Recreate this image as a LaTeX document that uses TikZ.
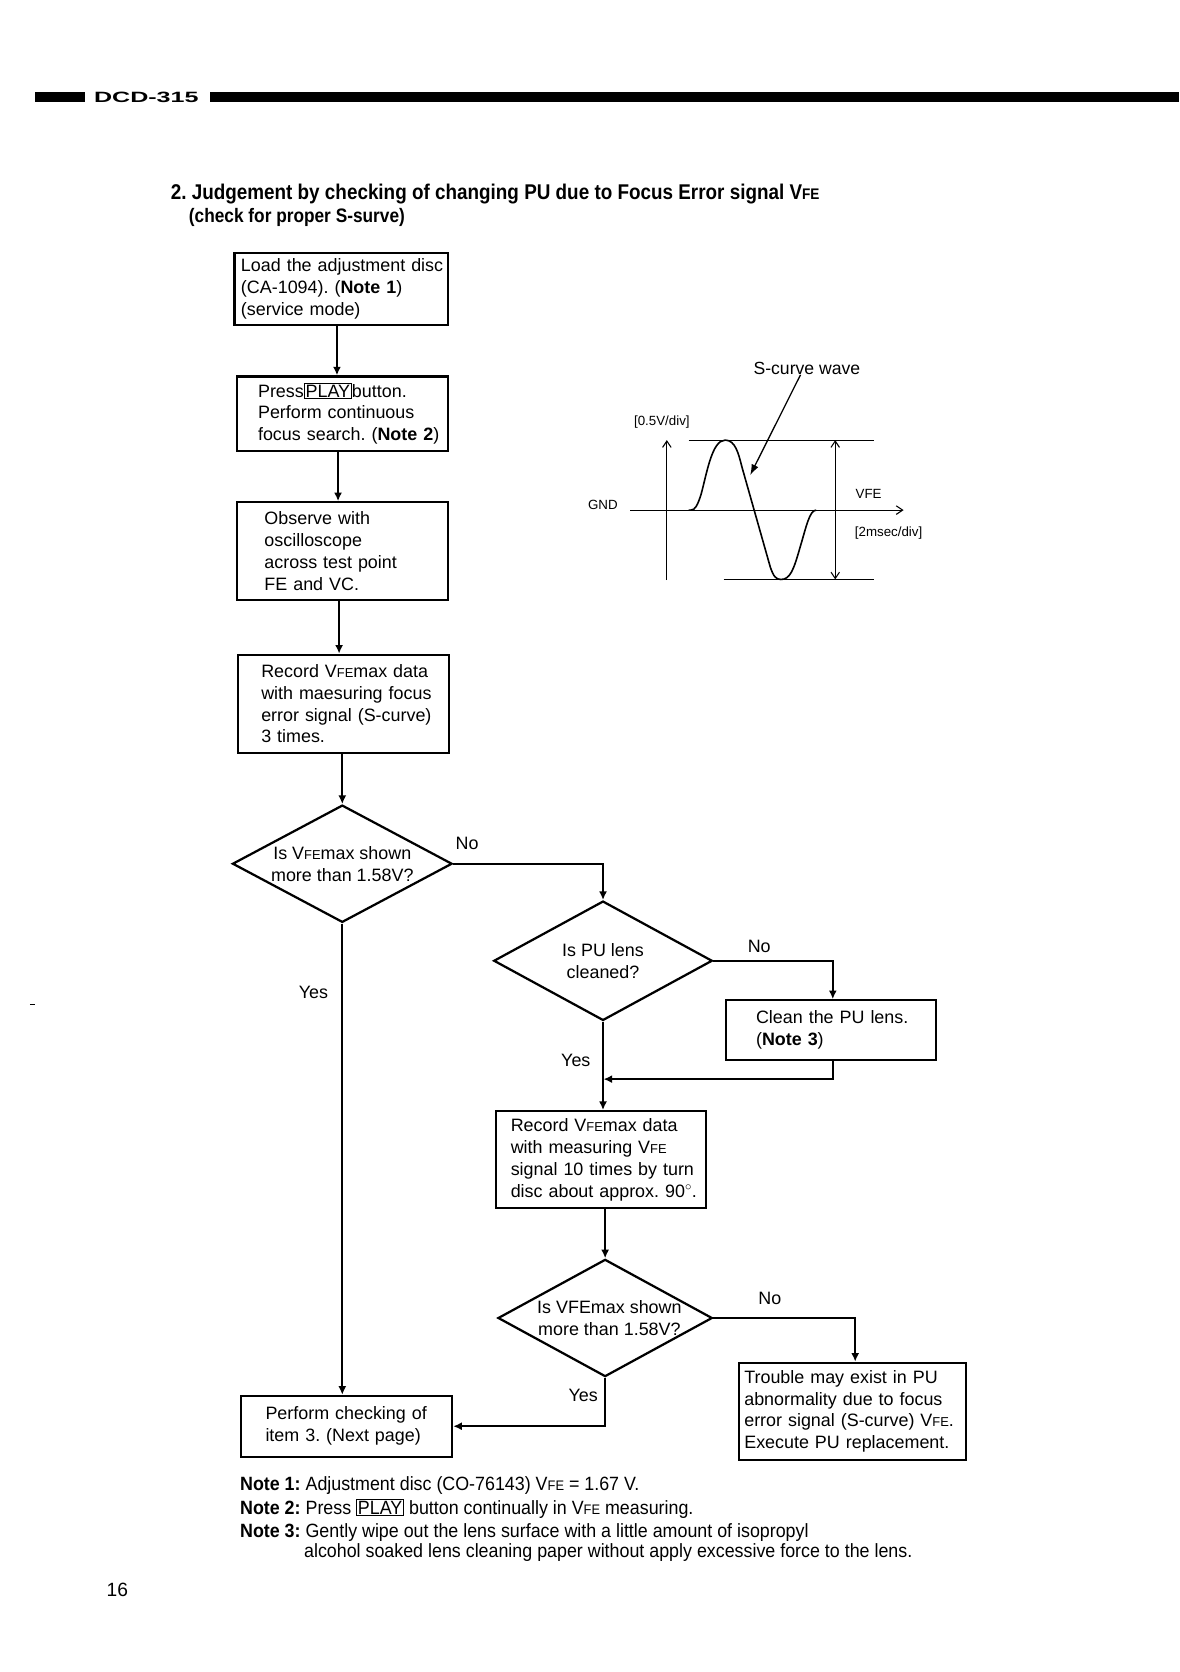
\documentclass[tikz,border=0pt]{standalone}
\usepackage{fontspec}
\setmainfont{Liberation Sans}
\newfontfamily\condfont[FakeStretch=0.885]{Liberation Sans}
\newfontfamily\notefont[FakeStretch=0.93]{Liberation Sans}
\usetikzlibrary{arrows.meta,shapes.geometric,calc}
\frenchspacing
\newcommand\FE{\scalebox{0.72}{FE}}
\newcommand\playkey{{\setlength{\fboxsep}{0.8pt}\setlength{\fboxrule}{0.9pt}\fbox{PLAY}}}
\newcommand\myline[1]{\mbox{#1}}
\tikzset{
  box/.style={draw, line width=2.1pt, inner ysep=0pt, align=left,
    font=\fontsize{16.8}{20.5}\selectfont},
  dia/.style={draw, diamond, line width=2.1pt, inner sep=0pt},
  dtxt/.style={inner sep=0pt, align=center, font=\fontsize{16.8}{20.5}\selectfont},
  lbl/.style={inner sep=0pt, font=\fontsize{16.8}{20}\selectfont},
  arr/.style={line width=2pt, -{Latex[length=8pt,width=7.5pt]}},
  gline/.style={line width=1pt},
  gtxt/.style={inner sep=0pt, font=\fontsize{12.5}{14}\selectfont},
  note/.style={inner sep=0pt, font=\notefont\fontsize{18}{22}\selectfont},
  barb/.style={-{Straight Barb[length=6pt,width=8pt]}}
}
\begin{document}
\begin{tikzpicture}[x=1pt,y=-1pt]
\useasboundingbox (0,0) rectangle (1106,1568);
\fill[white] (0,0) rectangle (1106,1568);

% header
\fill (33,86) rectangle (80,96);
\fill (197,86) rectangle (1106,96);
\node[anchor=west, inner sep=0pt, font=\bfseries\fontsize{14}{14}\selectfont] (hdr) at (88,91.5) {\scalebox{1.68}[1]{DCD-315}};

% title
\node[anchor=base west, inner sep=0pt, font=\condfont\bfseries\fontsize{20}{24}\selectfont] (title) at (160,187)
  {2. Judgement by checking of changing PU due to Focus Error signal V\FE};
\node[anchor=base west, inner sep=0pt, font=\condfont\bfseries\fontsize{18.3}{22}\selectfont] (sub) at (177,209)
  {(check for proper S-surve)};

% boxes
\node[box, minimum width=200pt, minimum height=68pt, text width=188pt, inner xsep=6pt] (b1) at (320,271)
  {\myline{Load the adjustment disc}\\\myline{(CA-1094). (\textbf{Note 1})}\\\myline{(service mode)}};
\node[box, minimum width=198pt, minimum height=70pt, text width=158pt, inner xsep=20pt] (b2) at (321,388)
  {\myline{Press\playkey button.}\\\myline{Perform continuous}\\\myline{focus search. (\textbf{Note 2})}};
\node[box, minimum width=198pt, minimum height=92pt, text width=146pt, inner xsep=26pt] (b3) at (321,517)
  {\myline{Observe with}\\\myline{oscilloscope}\\\myline{across test point}\\\myline{FE and VC.}};
\node[box, minimum width=198pt, minimum height=92pt, text width=154pt, inner xsep=22pt] (b4) at (322,660)
  {\myline{Record V\FE max data}\\\myline{with maesuring focus}\\\myline{error signal (S-curve)}\\\myline{3 times.}};
\node[box, minimum width=197pt, minimum height=56pt, text width=141pt, inner xsep=28pt] (b5) at (779.5,966)
  {\myline{Clean the PU lens.}\\\myline{(\textbf{Note 3})}};
\node[box, minimum width=197pt, minimum height=91pt, text width=169pt, inner xsep=14pt] (b6) at (563.5,1087.5)
  {\myline{Record V\FE max data}\\\myline{with measuring V\FE}\\\myline{signal 10 times by turn}\\\myline{disc about approx. 90$^\circ$.}};
\node[box, minimum width=213pt, minimum height=91pt, text width=203pt, inner xsep=5pt] (b7) at (799.5,1323.5)
  {\myline{Trouble may exist in PU}\\\myline{abnormality due to focus}\\\myline{error signal (S-curve) V\FE.}\\\myline{Execute PU replacement.}};
\node[box, minimum width=198pt, minimum height=57pt, text width=152pt, inner xsep=23pt] (b8) at (325,1337.5)
  {\myline{Perform checking of}\\\myline{item 3. (Next page)}};

% diamonds
\node[dia, minimum width=206pt, minimum height=110pt] (d1) at (321,810) {};
\node[dtxt] (d1t) at (d1) {Is V\FE max shown\\more than 1.58V?};
\node[dia, minimum width=205pt, minimum height=112pt] (d2) at (565.5,901) {};
\node[dtxt] (d2t) at (d2) {Is PU lens\\cleaned?};
\node[dia, minimum width=201pt, minimum height=110pt] (d3) at (567.5,1236) {};
\node[dtxt] (d3t) at ($(d3)+(4,0)$) {Is VFEmax shown\\more than 1.58V?};

% connectors
\draw[arr] ([xshift=-4pt]b1.south) -- ([xshift=-4pt]b1.south |- b2.north);
\draw[arr] ([xshift=-4pt]b2.south) -- ([xshift=-4pt]b2.south |- b3.north);
\draw[arr] ([xshift=-3pt]b3.south) -- ([xshift=-3pt]b3.south |- b4.north);
\draw[arr] (d1.north |- b4.south) -- (d1.north);
\draw[arr] (d1.east) -| (d2.north);
\draw[arr] (d2.east) -| ([xshift=1.5pt]b5.north);
\coordinate (j1) at (566,1012);
\draw[arr] ([xshift=1.5pt]b5.south) |- (j1);
\draw[arr] (d2.south) -- (d2.south |- b6.north);
\draw[arr] (d3.north |- b6.south) -- (d3.north);
\draw[arr] (d3.east) -| ([xshift=2.5pt]b7.north);
\draw[arr] (d3.south) |- (b8.east);
\draw[arr] (d1.south) -- (d1.south |- b8.north);

% labels
\node[lbl] (n1) at (438,791) {No};
\node[lbl] (y1) at (294,931) {Yes};
\node[lbl] (n2) at (712,888) {No};
\node[lbl] (y2) at (540,994) {Yes};
\node[lbl] (n3) at (722,1218) {No};
\node[lbl] (y3) at (547,1309) {Yes};

% oscilloscope graph
\begin{scope}[shift={(525.3,318.9)}, x=0.3127pt, y=-0.3127pt]
  \draw[gline, barb] (320,720) -- (320,300);
  \draw[gline, barb] (210,510) -- (1030,510);
  \draw[gline] (385,300) -- (940,300);
  \draw[gline] (490,718) -- (940,718);
  \draw[gline, {Straight Barb[length=6pt,width=8pt]}-{Straight Barb[length=6pt,width=8pt]}] (825,300) -- (825,718);
  \draw[line width=1.5pt, line join=round]
    (385,510) -- (392,510) .. controls (405,510) and (412,495) .. (422,465)
    .. controls (440,400) and (455,300) .. (495,300)
    .. controls (525,300) and (535,340) .. (545,380) -- (630,680)
    .. controls (640,710) and (648,718) .. (662,718)
    .. controls (690,718) and (700,690) .. (720,620)
    .. controls (738,560) and (748,510) .. (768,510);
  \node[inner sep=0pt, font=\fontsize{16.5}{18}\selectfont] (sc) at (740,85) {S-curve wave};
  \coordinate (scpt) at (570,405);
  \draw[line width=1.2pt, -{Latex[length=10pt,width=7pt]}] ([xshift=-6pt]sc.south) -- (scpt);
  \node[gtxt] (gnd) at (128,495) {GND};
  \node[gtxt] (vdiv) at (305,245) {[0.5V/div]};
  \node[gtxt] (vfe) at (925,460) {VFE};
  \node[gtxt] (tdiv) at (985,578) {[2msec/div]};
\end{scope}

% notes
\node[note, anchor=base west] (nt1) at (225,1398) {\textbf{Note 1:} Adjustment disc (CO-76143) V\FE\ = 1.67 V.};
\node[note, anchor=base west] (nt2) at (225,1420) {\textbf{Note 2:} Press \playkey\ button continually in V\FE\ measuring.};
\node[note, anchor=base west] (nt3) at (225,1442) {\textbf{Note 3:} Gently wipe out the lens surface with a little amount of isopropyl};
\node[note, anchor=base west] (nt4) at (285,1461) {alcohol soaked lens cleaning paper without apply excessive force to the lens.};

% page number and mark
\node[inner sep=0pt, font=\fontsize{18}{20}\selectfont] (pg) at (110,1491) {16};
\draw[line width=1pt] (28,942) -- (33,942);
\end{tikzpicture}
\end{document}
